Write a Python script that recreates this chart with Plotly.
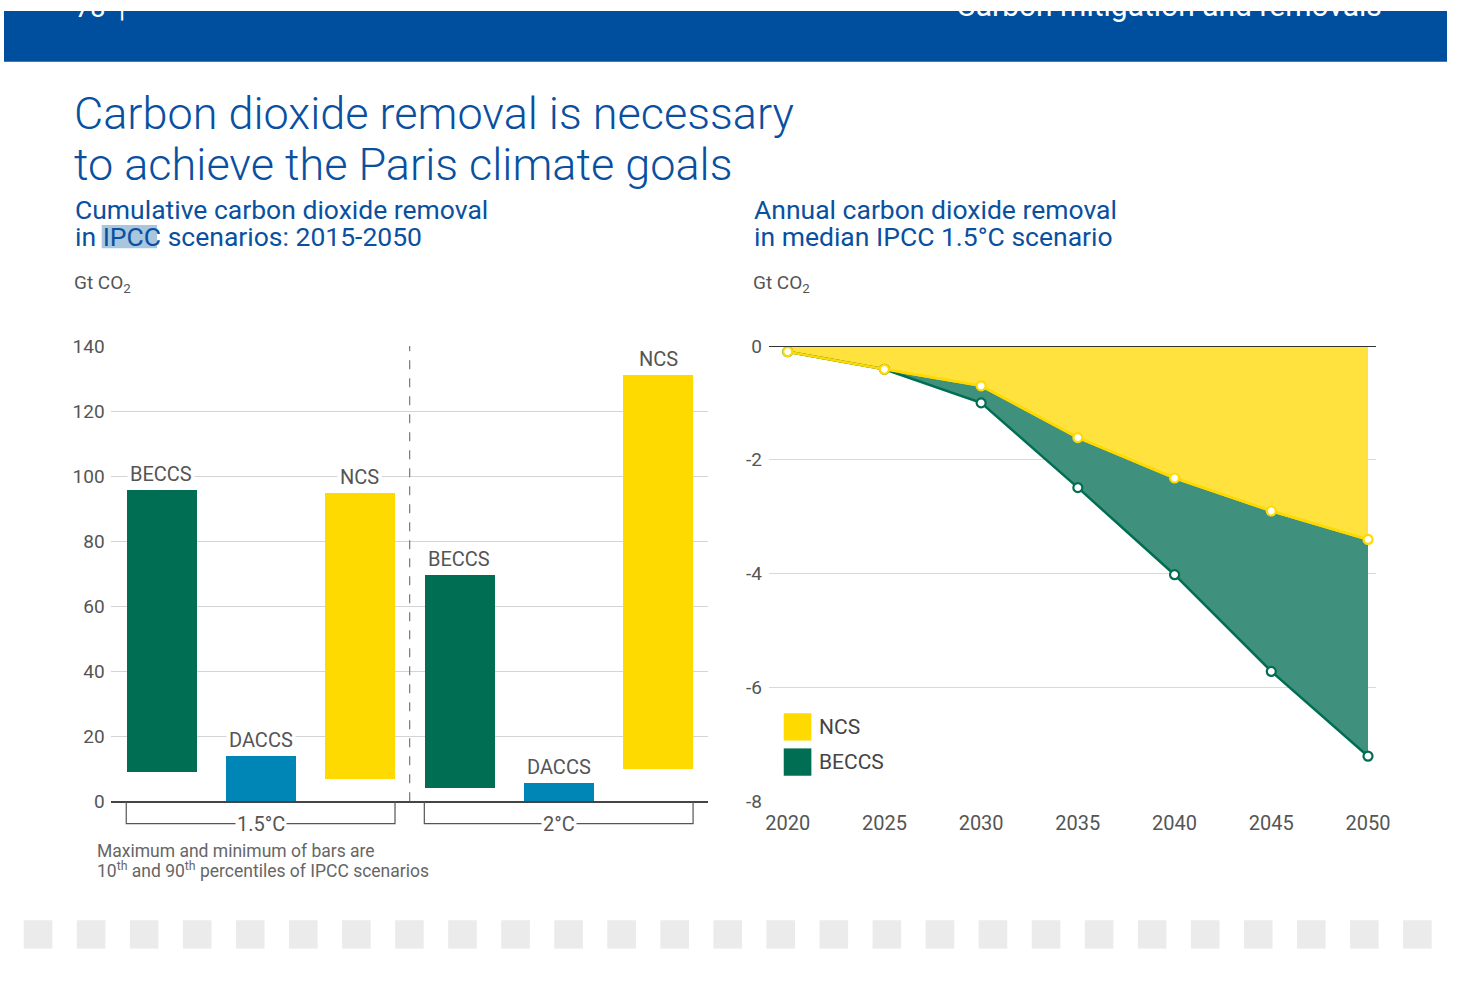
import plotly.graph_objects as go

W, H = 1462, 986


def px(x):
    return x / W


def py(y):
    return 1 - y / H


# ---------------- data ----------------
# Left: cumulative CDR 2015-2050 (Gt CO2), bars span 10th..90th percentile
bar_labels = ["BECCS", "DACCS", "NCS", "BECCS", "DACCS", "NCS"]
bar_low = [9.0, 0.0, 6.9, 3.9, 0.0, 9.9]
bar_high = [95.8, 13.8, 94.9, 69.7, 5.7, 131.0]
scenarios = ["1.5°C", "2°C"]
left_yticks = [0, 20, 40, 60, 80, 100, 120, 140]

# Right: annual CDR in median IPCC 1.5°C scenario (Gt CO2)
years = [2020, 2025, 2030, 2035, 2040, 2045, 2050]
ncs = [-0.10, -0.41, -0.70, -1.61, -2.32, -2.90, -3.40]
beccs = [0.00, 0.00, -0.30, -0.88, -1.70, -2.82, -3.81]
right_yticks = [0, -2, -4, -6, -8]
right_yticktext = ["0", "-2", "-4", "-6", "-8"]

# page header texts
header_left = "78  |"
header_right = "Carbon mitigation and removals"

# ---------------- style ----------------
BLUE_HDR = "#004f9e"
TITLE_BLUE = "#0a50a0"
GREEN = "#006e52"
DBLUE = "#0086b6"
YELLOW = "#ffda00"
AREA_YELLOW = "#ffe23e"
AREA_GREEN = "#3f917e"
GRID = "#d4d4d4"
TXT = "#555555"
FONT = "Roboto"
TFONT = "Roboto"

color_map = {"BECCS": GREEN, "DACCS": DBLUE, "NCS": YELLOW}
bar_w = 0.705
positions = list(range(len(bar_labels)))

fig = go.Figure()

fig.add_trace(go.Bar(
    x=positions,
    y=[h - l for h, l in zip(bar_high, bar_low)],
    base=bar_low,
    width=bar_w,
    marker=dict(color=[color_map[b] for b in bar_labels], line=dict(width=0)),
    xaxis="x", yaxis="y", showlegend=False, hoverinfo="skip",
))

total = [n + b for n, b in zip(ncs, beccs)]

fig.add_trace(go.Scatter(
    x=years, y=ncs, mode="lines", fill="tozeroy", fillcolor=AREA_YELLOW,
    line=dict(color=YELLOW, width=2.5), xaxis="x2", yaxis="y2", showlegend=False,
))
fig.add_trace(go.Scatter(
    x=years, y=total, mode="lines+markers", fill="tonexty", fillcolor=AREA_GREEN,
    line=dict(color=GREEN, width=2.5),
    marker=dict(size=9, color="white", line=dict(color=GREEN, width=2.2)),
    xaxis="x2", yaxis="y2", showlegend=False,
))
fig.add_trace(go.Scatter(
    x=years, y=ncs, mode="lines+markers",
    line=dict(color=YELLOW, width=2.5),
    marker=dict(size=9, color="white", line=dict(color=YELLOW, width=2.2)),
    xaxis="x2", yaxis="y2", showlegend=False,
))

# header texts, clipped by the header band (axis 3 is in pixel units)
fig.add_trace(go.Scatter(
    x=[72], y=[13], mode="text", text=[header_left], textposition="top right",
    textfont=dict(family=FONT, size=27, color="white"),
    xaxis="x3", yaxis="y3", showlegend=False, hoverinfo="skip", cliponaxis=True,
))
fig.add_trace(go.Scatter(
    x=[1396], y=[13], mode="text", text=[header_right], textposition="top left",
    textfont=dict(family=FONT, size=30, color="white"),
    xaxis="x3", yaxis="y3", showlegend=False, hoverinfo="skip", cliponaxis=True,
))

annotations = []
shapes = []

# header bar
shapes.append(dict(type="rect", xref="paper", yref="paper", x0=0, x1=1, y0=py(52), y1=1.0,
                   fillcolor=BLUE_HDR, line=dict(width=0), layer="below"))

# titles
for txt, yc in [("Carbon dioxide removal is necessary", 105), ("to achieve the Paris climate goals", 157)]:
    annotations.append(dict(text=txt, x=px(69), y=py(yc), xref="paper", yref="paper",
                            xanchor="left", yanchor="middle", showarrow=False,
                            font=dict(family=TFONT, size=45, color=TITLE_BLUE, weight=300)))

# IPCC highlight
shapes.append(dict(type="rect", xref="paper", yref="paper", x0=px(99), x1=px(155),
                   y0=py(243), y1=py(219), fillcolor="#a9c6df", line=dict(width=0), layer="below"))

subtitles = [
    ("Cumulative carbon dioxide removal", 70, 203),
    ("in IPCC scenarios: 2015-2050", 70, 231),
    ("Annual carbon dioxide removal", 758, 203),
    ("in median IPCC 1.5°C scenario", 758, 231),
]
for txt, xl, yc in subtitles:
    annotations.append(dict(text=txt, x=px(xl), y=py(yc), xref="paper", yref="paper",
                            xanchor="left", yanchor="middle", showarrow=False,
                            font=dict(family=TFONT, size=26.5, color=TITLE_BLUE, weight=400)))

for xl in (69, 757):
    annotations.append(dict(text="Gt CO<sub>2</sub>", x=px(xl), y=py(279), xref="paper", yref="paper",
                            xanchor="left", yanchor="middle", showarrow=False,
                            font=dict(family=FONT, size=19, color=TXT)))

# bar labels
for i, (lab, hi) in enumerate(zip(bar_labels, bar_high)):
    annotations.append(dict(text=lab, x=positions[i], y=hi, xref="x", yref="y",
                            xanchor="center", yanchor="bottom", yshift=1, showarrow=False,
                            bgcolor="white", borderpad=2,
                            font=dict(family=FONT, size=20, color=TXT)))

# separator
shapes.append(dict(type="line", xref="x", yref="y", x0=2.5, x1=2.5, y0=0, y1=140,
                   line=dict(color="#777777", width=1.2, dash="dash")))

# scenario brackets
for g, sc in enumerate(scenarios):
    x0 = positions[3 * g] - bar_w / 2
    x1 = positions[3 * g + 2] + bar_w / 2
    yt, yb = py(809), py(832)
    shapes.append(dict(type="path", xref="x", yref="paper",
                       path=f"M {x0},{yt} L {x0},{yb} L {x1},{yb} L {x1},{yt}",
                       line=dict(color="#555555", width=1.2)))
    annotations.append(dict(text=sc, x=positions[3 * g + 1], y=yb, xref="x", yref="paper",
                            xanchor="center", yanchor="middle", showarrow=False,
                            bgcolor="white", borderpad=1,
                            font=dict(family=FONT, size=20, color=TXT)))

# footnote
annotations.append(dict(text="Maximum and minimum of bars are", x=px(92), y=py(860),
                        xref="paper", yref="paper", xanchor="left", yanchor="middle",
                        showarrow=False, font=dict(family=FONT, size=17.5, color="#666666")))
annotations.append(dict(text="10<sup>th</sup> and 90<sup>th</sup> percentiles of IPCC scenarios",
                        x=px(92), y=py(880), xref="paper", yref="paper", xanchor="left",
                        yanchor="middle", showarrow=False,
                        font=dict(family=FONT, size=17.5, color="#666666")))

# right chart zero line
shapes.append(dict(type="line", xref="x2 domain", yref="y2", x0=0, x1=1, y0=0, y1=0,
                   line=dict(color="#333333", width=2)))

# legend
for name, col, yc in [("NCS", YELLOW, 733), ("BECCS", GREEN, 769)]:
    shapes.append(dict(type="rect", xref="paper", yref="paper", x0=px(790), x1=px(818),
                       y0=py(yc + 14), y1=py(yc - 14), fillcolor=col, line=dict(width=0)))
    annotations.append(dict(text=name, x=px(824), y=py(yc), xref="paper", yref="paper",
                            xanchor="left", yanchor="middle", showarrow=False,
                            font=dict(family=FONT, size=21, color="#444444")))

# decorative grey squares at bottom
for k in range(27):
    xl = 20 + k * 53.75
    shapes.append(dict(type="rect", xref="paper", yref="paper", x0=px(xl), x1=px(xl + 29),
                       y0=py(960), y1=py(931), fillcolor="#ebebeb", line=dict(width=0)))

fig.update_layout(
    width=W, height=H,
    margin=dict(l=0, r=0, t=0, b=0, pad=0),
    paper_bgcolor="white", plot_bgcolor="rgba(0,0,0,0)",
    font=dict(family=FONT, size=18, color=TXT),
    bargap=0,
    xaxis=dict(domain=[px(108), px(713)], range=[-0.51, 5.5], showticklabels=False,
               showgrid=False, zeroline=False, ticks="", showline=True,
               linecolor="#444444", linewidth=1.5, fixedrange=True),
    yaxis=dict(domain=[py(809), py(343)], range=[0, 140], tickvals=left_yticks,
               showgrid=True, gridcolor=GRID, gridwidth=1, zeroline=False, ticks="",
               ticklabelstandoff=5, tickfont=dict(family=FONT, size=19, color=TXT),
               fixedrange=True),
    xaxis2=dict(domain=[px(775), px(1390)], range=[2019.03, 2050.41], tickvals=years,
                showgrid=False, zeroline=False, ticks="", anchor="y2",
                ticklabelstandoff=8, tickfont=dict(family=FONT, size=20, color=TXT),
                fixedrange=True),
    yaxis2=dict(domain=[py(809), py(343)], range=[-8, 0], tickvals=right_yticks,
                ticktext=right_yticktext, showgrid=True, gridcolor="rgba(0,0,0,0.15)",
                gridwidth=1, zeroline=False, ticks="", anchor="x2", ticklabelstandoff=6,
                layer="above traces",
                tickfont=dict(family=FONT, size=19, color=TXT), fixedrange=True),
    xaxis3=dict(domain=[0, 1], range=[0, W], visible=False, anchor="y3", fixedrange=True),
    yaxis3=dict(domain=[py(52), 1], range=[52, 0], visible=False, anchor="x3", fixedrange=True),
    annotations=annotations,
    shapes=shapes,
)

fig.write_html(
    "out.html",
    config={"displayModeBar": False},
    post_script="document.body.style.margin='0';document.body.style.padding='0';"
                "document.body.style.overflow='hidden';",
)
